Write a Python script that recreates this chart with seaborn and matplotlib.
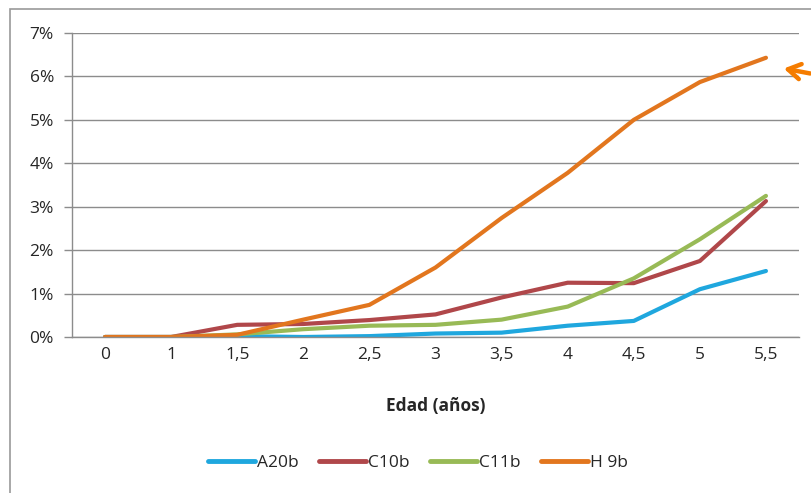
import matplotlib
matplotlib.use("Agg")
import matplotlib.pyplot as plt
import matplotlib.patches as mpatches
from matplotlib.ticker import PercentFormatter, FixedLocator
import numpy as np
import pandas as pd
import seaborn as sns

# Edad (años) categories and share per series (fractions)
edades = ["0", "1", "1,5", "2", "2,5", "3", "3,5", "4", "4,5", "5", "5,5"]
a20b = [0.0, 0.0, 0.0002, 0.0, 0.0002, 0.0008, 0.0010, 0.0026, 0.0037, 0.0110, 0.0152]
c10b = [0.0, 0.0, 0.0028, 0.0030, 0.0039, 0.0052, 0.0091, 0.0125, 0.0124, 0.0175, 0.0313]
c11b = [0.0, 0.0, 0.0006, 0.0018, 0.0026, 0.0028, 0.0040, 0.0070, 0.0135, 0.0225, 0.0325]
h9b = [0.0, 0.0, 0.0005, 0.0040, 0.0074, 0.0160, 0.0274, 0.0378, 0.0500, 0.0587, 0.0643]

series = ["A20b", "C10b", "C11b", "H 9b"]
colores = ["#1FA7DE", "#B0474A", "#98BA56", "#E2761E"]

df = pd.concat(
    [pd.DataFrame({"edad": edades, "valor": v, "serie": s})
     for s, v in zip(series, [a20b, c10b, c11b, h9b])],
    ignore_index=True,
)

sns.set_style("white")
plt.rcParams["font.family"] = ["Open Sans", "DejaVu Sans"]

W, H = 811, 493
fig = plt.figure(figsize=(W / 100, H / 100), dpi=100)
ax = fig.add_axes([72 / W, 1 - 337 / H, (799 - 72) / W, (337 - 33) / H])

sns.lineplot(data=df, x="edad", y="valor", hue="serie", palette=colores,
             linewidth=3, ax=ax, sort=False, legend=False)

txt_c = "#262626"
grid_c = "#8C8C8C"
fs = 12.5
ax.set_xlim(-0.5, len(edades) - 0.5)
ax.set_ylim(0, 0.07)
ax.set_yticks(np.arange(0, 0.0701, 0.01))
ax.yaxis.set_major_formatter(PercentFormatter(1.0, decimals=0))
ax.yaxis.grid(True, color=grid_c, linewidth=1)
ax.set_axisbelow(True)

ax.set_xticks(range(len(edades)))
ax.set_xticklabels(edades)
ax.xaxis.set_minor_locator(FixedLocator(np.arange(-0.5, len(edades), 1.0)))
ax.tick_params(axis="x", which="major", length=0, pad=7, labelsize=fs, labelcolor=txt_c)
ax.tick_params(axis="x", which="minor", length=6, width=1, color=grid_c, direction="out")
ax.tick_params(axis="y", length=6, width=1, color=grid_c, direction="out", pad=7,
               labelsize=fs, labelcolor=txt_c)
ax.tick_params(bottom=True, left=True)

for side in ["top", "right"]:
    ax.spines[side].set_visible(False)
for side in ["left", "bottom"]:
    ax.spines[side].set_color(grid_c)
    ax.spines[side].set_linewidth(1)

ax.set_xlabel("Edad (años)", fontsize=fs, fontweight="bold", color=txt_c, labelpad=25)
ax.set_ylabel("")

# chart frame
frame = mpatches.Rectangle((10 / W, -0.1), 1.2, 1 - 9 / H + 0.1, transform=fig.transFigure,
                           fill=False, edgecolor="#9A9A9A", linewidth=1.2, clip_on=False)
fig.add_artist(frame)

# legend
handles = [plt.Line2D([], [], color=c, linewidth=3.5) for c in colores]
fig.legend(handles, series, loc="center", bbox_to_anchor=(418 / W, 1 - 463 / H),
           ncol=4, frameon=False, fontsize=fs, handlelength=2.7, handletextpad=0.1,
           columnspacing=1.2, labelcolor=txt_c)

# marker arrow pointing at the last value of H 9b
ax.annotate("", xy=(781 / W, 1 - 68 / H), xycoords="figure fraction",
            xytext=(813 / W, 1 - 74 / H), textcoords="figure fraction",
            arrowprops=dict(arrowstyle="->,head_length=0.9,head_width=0.55",
                            color="#F57C00", linewidth=3.2))

fig.savefig("out.png", dpi=100)
